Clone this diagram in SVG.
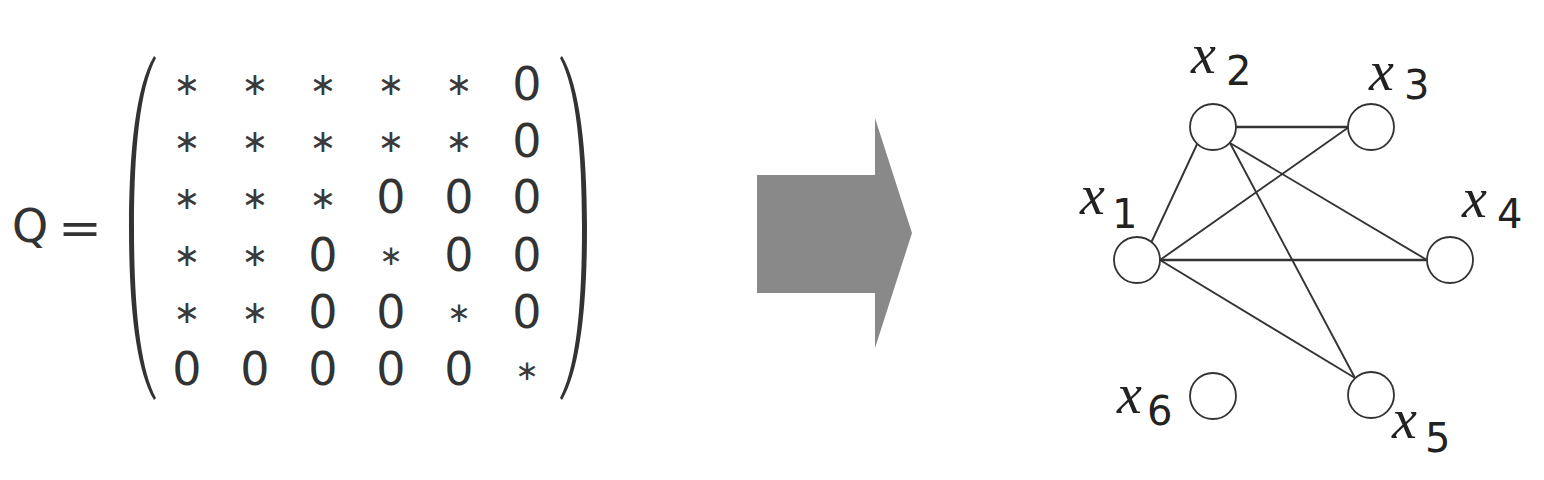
<svg xmlns="http://www.w3.org/2000/svg" width="1544" height="480" viewBox="0 0 1544 480">
<style>
.m{font-family:"DejaVu Sans",sans-serif;font-size:46px;fill:#333;text-anchor:middle}
.a{font-family:"DejaVu Sans",sans-serif;font-size:32px;fill:#3a3a3a;text-anchor:middle}
.s{font-size:28px}
.vx{font-family:"Liberation Serif",serif;font-style:italic;font-size:56px;fill:#222}
.vs{font-family:"DejaVu Sans",sans-serif;font-size:40px;fill:#222}
.node{fill:#fff;stroke:#333;stroke-width:1.8}
.edge{stroke:#333;stroke-width:1.9;fill:none}
</style>
<rect width="1544" height="480" fill="#fff"/>
<g id="matrix">
<text class="m" x="12" y="242" style="text-anchor:start">Q</text>
<text class="m" x="58" y="244" style="text-anchor:start" textLength="44" lengthAdjust="spacingAndGlyphs">=</text>
<path d="M154,56 C136,86 129,150 129,228 C129,306 136,370 154,400 L156,398 C140,368 134,306 134,228 C134,150 140,88 156,58 Z" fill="#333"/>
<path d="M562,56 C580,86 587,150 587,228 C587,306 580,370 562,400 L560,398 C576,368 582,306 582,228 C582,150 576,88 560,58 Z" fill="#333"/>
<g class="a">
<text x="187" y="95">∗</text><text x="255" y="95">∗</text><text x="323" y="95">∗</text><text x="391" y="95">∗</text><text x="459" y="95">∗</text>
<text x="187" y="152">∗</text><text x="255" y="152">∗</text><text x="323" y="152">∗</text><text x="391" y="152">∗</text><text x="459" y="152">∗</text>
<text x="187" y="209">∗</text><text x="255" y="209">∗</text><text x="323" y="209">∗</text>
<text x="187" y="266">∗</text><text x="255" y="266">∗</text><text class="s" x="391" y="265">∗</text>
<text x="187" y="323">∗</text><text x="255" y="323">∗</text><text class="s" x="459" y="322">∗</text>
<text class="s" x="527" y="380">∗</text>
</g>
<g class="m">
<text x="527" y="100">0</text>
<text x="527" y="157">0</text>
<text x="391" y="213">0</text><text x="459" y="213">0</text><text x="527" y="213">0</text>
<text x="323" y="271">0</text><text x="459" y="271">0</text><text x="527" y="271">0</text>
<text x="323" y="328">0</text><text x="391" y="328">0</text><text x="527" y="328">0</text>
<text x="187" y="385">0</text><text x="255" y="385">0</text><text x="323" y="385">0</text><text x="391" y="385">0</text><text x="459" y="385">0</text>
</g>
</g>
<g id="arrow">
<polygon points="757,175 875,175 875,118 912,233 875,348 875,293 757,293" fill="#898989"/>
</g>
<g id="connectors">
<line class="edge" x1="1151" y1="243" x2="1199" y2="140"/>
<line class="edge" x1="1236" y1="127" x2="1349" y2="127" style="stroke-width:2.6"/>
<line class="edge" x1="1160" y1="260" x2="1349" y2="127"/>
<line class="edge" x1="1160" y1="260" x2="1427" y2="260" style="stroke-width:2.6"/>
<line class="edge" x1="1160" y1="260" x2="1355" y2="378"/>
<line class="edge" x1="1230" y1="143" x2="1427" y2="260"/>
<line class="edge" x1="1230" y1="143" x2="1355" y2="378"/>
</g>
<g id="node-x1"><circle class="node" cx="1137" cy="260" r="23"/><text class="vx" x="1080" y="214">x</text><text class="vs" x="1112" y="228">1</text></g>
<g id="node-x2"><circle class="node" cx="1213" cy="127" r="23"/><text class="vx" x="1191" y="73">x</text><text class="vs" x="1226" y="85">2</text></g>
<g id="node-x3"><circle class="node" cx="1371" cy="127" r="23"/><text class="vx" x="1369" y="90">x</text><text class="vs" x="1404" y="99">3</text></g>
<g id="node-x4"><circle class="node" cx="1450" cy="260" r="23"/><text class="vx" x="1462" y="217">x</text><text class="vs" x="1497" y="228">4</text></g>
<g id="node-x5"><circle class="node" cx="1371" cy="395" r="23"/><text class="vx" x="1392" y="438">x</text><text class="vs" x="1425" y="452">5</text></g>
<g id="node-x6"><circle class="node" cx="1213" cy="396" r="23"/><text class="vx" x="1117" y="413">x</text><text class="vs" x="1147" y="425">6</text></g>
</svg>
